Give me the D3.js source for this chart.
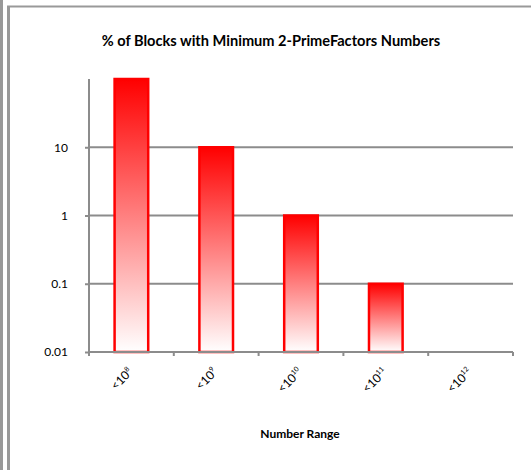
<!DOCTYPE html>
<html><head><meta charset="utf-8">
<script src="https://cdn.jsdelivr.net/npm/d3@7"></script>
<style>body{margin:0;background:#fff;}svg{display:block;}</style>
</head><body>
<svg id="c" width="531" height="470"></svg>
<script>
const categories = ["8", "9", "10", "11", "12"];
const values = [100, 10, 1, 0.1, null];
const yTicks = [0.01, 0.1, 1, 10];
const yTickLabels = ["0.01", "0.1", "1", "10"];
const title = "% of Blocks with Minimum 2-PrimeFactors Numbers";
const xTitle = "Number Range";

const svg = d3.select("#c");
const font = "Lato, 'Open Sans', sans-serif";

// frame
svg.append("line").attr("x1",1.5).attr("x2",1.5).attr("y1",0).attr("y2",470).attr("stroke","#999").attr("stroke-width",3);
svg.append("line").attr("x1",8.5).attr("x2",8.5).attr("y1",6).attr("y2",470).attr("stroke","#999").attr("stroke-width",3);
svg.append("line").attr("x1",7).attr("x2",531).attr("y1",6.5).attr("y2",6.5).attr("stroke","#999").attr("stroke-width",2);

const m = {l:89, r:513, t:79, b:352};
const x = d3.scaleBand().domain(categories).range([m.l, m.r]).paddingInner(0.58).paddingOuter(0.29);
const y = d3.scaleLog().domain([0.01, 100]).range([m.b, m.t]);

const defs = svg.append("defs");
const g = defs.append("linearGradient").attr("id","grad").attr("x1",0).attr("y1",0).attr("x2",0).attr("y2",1);
g.append("stop").attr("offset","0%").attr("stop-color","#ff0000");
g.append("stop").attr("offset","100%").attr("stop-color","#ffffff");

// gridlines
svg.append("g").selectAll("line").data(yTicks.slice(1)).join("line")
  .attr("x1", m.l).attr("x2", m.r)
  .attr("y1", d => y(d)).attr("y2", d => y(d))
  .attr("stroke", "#8c8c8c").attr("stroke-width", 2);

// y axis
const ya = svg.append("g").attr("transform",`translate(${m.l},0)`)
  .call(d3.axisLeft(y).tickValues(yTicks).tickFormat((d,i)=>yTickLabels[i]).tickSize(4).tickSizeOuter(0));
ya.select(".domain").attr("stroke","#8c8c8c").attr("stroke-width",2).attr("d",`M0,${m.t}V${m.b}`);
ya.selectAll(".tick line").attr("stroke","#8c8c8c").attr("stroke-width",2);
ya.selectAll(".tick text").attr("x",-21).attr("font-family",font).attr("font-size",12).attr("fill","#000");

// bars
svg.append("g").selectAll("rect").data(categories.map((c,i)=>({c, v: values[i]})).filter(d=>d.v!=null)).join("rect")
  .attr("x", d => x(d.c)+1).attr("width", x.bandwidth()-2)
  .attr("y", d => y(d.v)).attr("height", d => y(0.01) - y(d.v))
  .attr("fill","url(#grad)").attr("stroke","#ff0000").attr("stroke-width",2.5);

// x axis
const step = (m.r - m.l)/categories.length;
const xa = svg.append("g");
xa.append("line").attr("x1",m.l-1).attr("x2",m.r).attr("y1",m.b).attr("y2",m.b).attr("stroke","#8c8c8c").attr("stroke-width",2);
xa.selectAll("line.t").data(d3.range(categories.length+1)).join("line").attr("class","t")
  .attr("x1", i => m.l + i*step).attr("x2", i => m.l + i*step)
  .attr("y1", m.b).attr("y2", m.b+4).attr("stroke","#8c8c8c").attr("stroke-width",2);

// x tick labels
categories.forEach((c,i) => {
  const cx = x(c) + x.bandwidth()/2;
  const t = svg.append("text")
    .attr("transform", `translate(${cx+2},${373}) rotate(-45)`)
    .attr("text-anchor","end").attr("font-family",font).attr("font-size",12).attr("fill","#000");
  t.append("tspan").text("<10");
  t.append("tspan").attr("font-size",7).attr("dy",-5).text(c);
});

// titles
svg.append("text").attr("x",271).attr("y",46).attr("text-anchor","middle")
  .attr("font-family",font).attr("font-weight","bold").attr("font-size",14.6).text(title);
svg.append("text").attr("x",300).attr("y",438).attr("text-anchor","middle")
  .attr("font-family",font).attr("font-weight","bold").attr("font-size",12).text(xTitle);
</script>
</body></html>
